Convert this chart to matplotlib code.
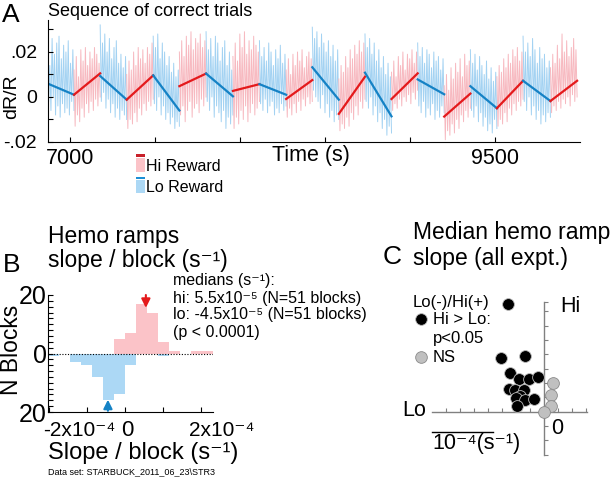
import matplotlib.pyplot as plt
import numpy as np
from matplotlib.patches import Rectangle

plt.rcParams['font.family'] = ['Liberation Sans', 'DejaVu Sans']

# ---- panel A data: block edges (s), ramp ends (dR/R), trace peaks (x1e-3)
block_edges = [6867, 7023, 7177, 7333, 7489, 7643, 7800, 7958, 8114, 8271, 8425,
               8581, 8735, 8891, 9045, 9201, 9355, 9511, 9665, 9826, 9983]
block_reward = ['lo', 'hi'] * 10
ramp_start = [0.0060, 0.0010, 0.0093, -0.0012, 0.0096, 0.0048, 0.0104, 0.0027, 0.0057, -0.0009,
              0.0132, -0.0075, 0.0108, -0.0009, 0.0078, -0.0087, 0.0048, -0.0050, 0.0072, -0.0018]
ramp_end = [0.0010, 0.0105, -0.0012, 0.0096, -0.0060, 0.0104, 0.0003, 0.0057, 0.0010, 0.0075,
            -0.0012, 0.0090, -0.0086, 0.0105, 0.0012, 0.0015, -0.0050, 0.0072, -0.0018, 0.0072]
trace_hi = [
    [22, 14, 26, 19, 24, 27, 17, 23, 20, 25, 15, 21],
    [12, 18, 9, 21, 16, 22, 14, 20, 17, 22, 19, 15],
    [32, 24, 28, 20, 26, 17, 22, 25, 15, 19, 13, 18],
    [10, 16, 12, 20, 14, 22, 17, 21, 15, 22, 19, 24],
    [27, 22, 28, 17, 24, 20, 14, 18, 11, 15, 9, 12],
    [20, 25, 18, 27, 23, 29, 21, 26, 24, 28, 22, 25],
    [29, 21, 26, 18, 27, 24, 16, 22, 25, 14, 20, 12],
    [18, 24, 16, 28, 22, 29, 19, 25, 21, 27, 23, 20],
    [25, 18, 22, 16, 24, 20, 14, 21, 17, 23, 15, 19],
    [12, 17, 10, 19, 14, 20, 16, 21, 13, 18, 20, 17],
    [31, 26, 29, 22, 28, 24, 20, 25, 18, 23, 16, 21],
    [8, 14, 11, 18, 13, 21, 17, 23, 19, 25, 20, 24],
    [28, 22, 26, 19, 24, 16, 21, 13, 18, 10, 15, 9],
    [11, 16, 9, 18, 14, 20, 12, 19, 17, 21, 15, 20],
    [24, 18, 22, 15, 21, 19, 13, 20, 16, 18, 12, 17],
    [5, 10, 3, 13, 8, 15, 11, 17, 9, 19, 14, 16],
    [21, 15, 19, 12, 18, 14, 10, 16, 8, 13, 7, 11],
    [9, 14, 11, 17, 13, 19, 15, 21, 18, 22, 16, 20],
    [27, 20, 24, 18, 26, 21, 15, 22, 17, 19, 13, 16],
    [13, 19, 15, 23, 17, 28, 20, 25, 18, 22, 26, 21],
]
trace_lo = [
    [-2, -6, 0, -8, -4, -9, -3, -7, -5, -8, -2, -6],
    [-13, -8, -11, -5, -9, -3, -7, -2, -6, -1, -4, 0],
    [-2, 2, -5, -1, -7, -3, -9, -5, -10, -6, -8, -10],
    [-14, -10, -12, -7, -11, -5, -8, -3, -6, -2, -4, -1],
    [-3, -6, 0, -8, -4, -10, -7, -12, -9, -14, -11, -13],
    [-8, -4, -11, -6, -2, -9, -5, -3, -7, -1, -4, 0],
    [-2, -6, 0, -9, -4, -7, -11, -6, -14, -9, -12, -8],
    [-14, -9, -12, -6, -10, -4, -11, -7, -3, -8, -5, -2],
    [-3, -6, -1, -7, -4, -2, -8, -5, -7, -3, -6, -4],
    [-9, -5, -8, -3, -7, -2, -6, -1, -4, 0, -3, -2],
    [3, 0, -2, -5, 1, -7, -3, -9, -6, -11, -8, -10],
    [-15, -12, -14, -9, -13, -7, -10, -4, -8, -2, -5, -1],
    [-2, -5, 0, -8, -4, -11, -7, -14, -10, -17, -13, -16],
    [-6, -3, -5, -1, -4, 0, -2, 1, -3, 2, -1, 3],
    [-4, -7, -2, -9, -5, -8, -3, -10, -6, -9, -4, -7],
    [-19, -15, -17, -12, -16, -10, -14, -8, -11, -6, -9, -5],
    [-6, -9, -4, -11, -7, -13, -9, -15, -12, -16, -10, -14],
    [-13, -10, -12, -7, -11, -5, -8, -3, -6, -2, -4, -1],
    [-2, -6, 0, -8, -4, -10, -6, -12, -8, -11, -7, -9],
    [-7, -4, -6, -2, -5, -1, -3, 0, -4, 1, -2, 0],
]

# ---- panel B data: histogram of slopes (x1e-5 s^-1)
bin_edges = [-20.3, -17.4, -14.5, -11.6, -8.7, -5.8, -2.9, 0, 2.9, 5.8, 8.7,
             11.6, 14.5, 17.4, 20.3, 23.2]
hi_counts = [0, 0, 0, 0, 0, 0, 5, 7, 17, 14, 4, 1, 0, 1, 1]
lo_counts = [1, 0, 3, 4, 8, 16, 14, 4, 0, 0, 1, 0, 0, 0, 0]
hi_median = 5.5
lo_median = -4.5

# ---- panel C data: median slopes per experiment (x1e-4 s^-1)
sig_lo = [-0.64, -0.76, -0.33, -0.60, -0.45, -0.26, -0.10, -0.63, -0.52, -0.36,
          -0.43, -0.49, -0.33, -0.18, -0.48]
sig_hi = [1.88, 0.93, 0.98, 0.67, 0.57, 0.57, 0.60, 0.39, 0.38, 0.38,
          0.27, 0.23, 0.21, 0.22, 0.09]
ns_lo = [0.16, 0.12, 0.12, 0.0]
ns_hi = [0.50, 0.29, 0.10, -0.01]

RED = '#e41a1c'
BLUE = '#1582c5'
PINK = '#f7b9c0'
LBLUE = '#a3d2f2'
HPINK = '#fbc3c8'
HBLUE = '#acd8f5'

W, H = 613, 483
fig = plt.figure(figsize=(W / 100, H / 100), dpi=100)


def box(l, t, r, b):
    return [l / W, 1 - b / H, (r - l) / W, (b - t) / H]


# ---------------- A
axA = fig.add_axes(box(48, 20, 580, 142))
for i in range(len(block_reward)):
    t0, t1 = block_edges[i], block_edges[i + 1]
    ys = np.empty(2 * len(trace_hi[i]))
    ys[0::2] = trace_hi[i]
    ys[1::2] = trace_lo[i]
    xs = np.linspace(t0, t1, len(ys))
    light = LBLUE if block_reward[i] == 'lo' else PINK
    axA.plot(xs, ys * 1e-3, color=light, lw=0.7, zorder=1)
for i in range(len(block_reward)):
    dark = BLUE if block_reward[i] == 'lo' else RED
    axA.plot([block_edges[i], block_edges[i + 1]], [ramp_start[i], ramp_end[i]],
             color=dark, lw=1.6, zorder=2)
axA.set_xlim(6870, 10000)
axA.set_ylim(-0.02, 0.0342)
axA.set_xticks([7000, 7500, 8000, 8500, 9000, 9500])
axA.set_xticklabels(['7000', '', '', '', '', '9500'], fontsize=15.5)
axA.set_yticks([-0.02, 0, 0.02])
axA.set_yticklabels(['-.02', '0', '.02'], fontsize=14)
axA.set_yticks([-0.01, 0.01, 0.03], minor=True)
axA.tick_params(direction='in', length=3.5, width=0.8, which='both')
axA.tick_params(axis='y', pad=8)
axA.tick_params(axis='x', pad=4)
for s in ['top', 'right']:
    axA.spines[s].set_visible(False)

# ---------------- B
axB = fig.add_axes(box(48, 295, 213, 412))
edges = np.array(bin_edges) * 1e-5
widths = np.diff(edges)
axB.bar(edges[:-1], [-c for c in lo_counts], width=widths, align='edge', color=HBLUE, lw=0)
axB.bar(edges[:-1], hi_counts, width=widths, align='edge', color=HPINK, lw=0)
axB.axhline(0, color='black', lw=0.8, ls=(0, (1, 1.5)))
axB.annotate('', xy=(hi_median * 1e-5, 15.6), xytext=(hi_median * 1e-5, 20.0),
             arrowprops=dict(arrowstyle='-|>', color=RED, lw=1.5, mutation_scale=13,
                             shrinkA=0, shrinkB=0))
axB.annotate('', xy=(lo_median * 1e-5, -15.8), xytext=(lo_median * 1e-5, -19.6),
             arrowprops=dict(arrowstyle='-|>', color=BLUE, lw=1.5, mutation_scale=13,
                             shrinkA=0, shrinkB=0),
             annotation_clip=False)
axB.set_xlim(-2.03e-4, 2.32e-4)
axB.set_ylim(-20, 20)
axB.set_xticks([-2e-4, -1e-4, 0, 1e-4, 2e-4])
axB.set_xticklabels([])
axB.set_yticks(range(-20, 21, 2))
axB.set_yticklabels(['20' if abs(v) == 20 else ('0' if v == 0 else '') for v in range(-20, 21, 2)],
                    fontsize=18)
axB.tick_params(direction='in', length=3.5, width=0.8)
axB.tick_params(axis='y', pad=1)
for s in ['top', 'right']:
    axB.spines[s].set_visible(False)

# ---------------- C
axC = fig.add_axes(box(432, 301.7, 587, 455))
axC.set_xlim(-2.0, 0.77)
axC.set_ylim(-0.757, 1.92)
axC.scatter(sig_lo, sig_hi, s=72, color='black', edgecolors='#bbbbbb', linewidths=0.6,
            zorder=3, clip_on=False)
axC.scatter(ns_lo, ns_hi, s=72, color='#c0c0c0', edgecolors='#8a8a8a', linewidths=0.6,
            zorder=3, clip_on=False)
for s in ['top', 'right']:
    axC.spines[s].set_visible(False)
for s in ['left', 'bottom']:
    axC.spines[s].set_position(('data', 0))
    axC.spines[s].set_color('#808080')
    axC.spines[s].set_linewidth(1)
axC.set_xticks([-1.75, -1.5, -1.25, -1.0, -0.75, -0.5, -0.25, 0.25, 0.5, 0.75])
axC.set_yticks([-0.757, -0.5, -0.25, 0.25, 0.5, 0.75, 1.0, 1.25, 1.5, 1.75, 1.92])
axC.set_xticklabels([])
axC.set_yticklabels([])
axC.tick_params(direction='in', length=3, width=0.8, color='#808080')

# ---------------- overlay texts (pixel coords)
ov = fig.add_axes([0, 0, 1, 1])
ov.set_xlim(0, W)
ov.set_ylim(H, 0)
ov.axis('off')


def txt(x, y, s, size, ha='left', **kw):
    ov.text(x, y, s, fontsize=size, ha=ha, va='center', **kw)


txt(2, 15, 'A', 19)
txt(48, 11, 'Sequence of correct trials', 13)
txt(12, 97, 'dR/R', 14, ha='center', rotation=90)
txt(311, 156, 'Time (s)', 15.5, ha='center')

ov.add_patch(Rectangle((136, 154.3), 9, 2.5, color='#c8202a', lw=0))
ov.add_patch(Rectangle((136, 158.3), 9, 13.4, color=HPINK, lw=0))
ov.add_patch(Rectangle((136, 176.7), 9, 2.5, color='#1b8fd6', lw=0))
ov.add_patch(Rectangle((136, 180), 9, 13.3, color=HBLUE, lw=0))
txt(146.5, 166.5, 'Hi Reward', 11.5)
txt(146.5, 187.5, 'Lo Reward', 11.5)

txt(3, 265, 'B', 19)
txt(48, 236, 'Hemo ramps', 16.5)
txt(48, 260, 'slope / block (s\u207b\u00b9)', 16.5)
txt(12, 350, 'N Blocks', 16.5, ha='center', rotation=90)
txt(173, 280, 'medians (s\u207b\u00b9):', 11.5)
txt(173, 298, 'hi: 5.5x10\u207b\u2075 (N=51 blocks)', 11.5)
txt(173, 315, 'lo: -4.5x10\u207b\u2075 (N=51 blocks)', 11.5)
txt(173, 332, '(p < 0.0001)', 11.5)
txt(79, 431, '-2x10\u207b\u2074', 15, ha='center')
txt(127, 431, '0', 16, ha='center')
txt(222, 431, '2x10\u207b\u2074', 15, ha='center')
txt(48, 453, 'Slope / block (s\u207b\u00b9)', 17)
txt(48, 472, 'Data set: STARBUCK_2011_06_23\\STR3', 6.5)

txt(383, 257, 'C', 19)
txt(413, 233, 'Median hemo ramp', 16.5)
txt(413, 258, 'slope (all expt.)', 16.5)
txt(413, 302, 'Lo(-)/Hi(+)', 12)
ov.plot([420.7], [319], 'o', ms=8.4, color='black', mec='#bbbbbb', mew=0.6)
ov.plot([420.7], [356.7], 'o', ms=8.4, color='#c0c0c0', mec='#8a8a8a', mew=0.6)
txt(433, 319, 'Hi > Lo:', 12)
txt(433, 338, 'p<0.05', 12)
txt(433, 357, 'NS', 12)
txt(560, 307, 'Hi', 15.5)
txt(402, 411, 'Lo', 15.5)
txt(557, 428, '0', 15.5, ha='center')
txt(432, 443, '10\u207b\u2074(s\u207b\u00b9)', 15.5)
ov.plot([432, 493], [431.5, 431.5], color='black', lw=1)

fig.savefig('out.png', dpi=100)
